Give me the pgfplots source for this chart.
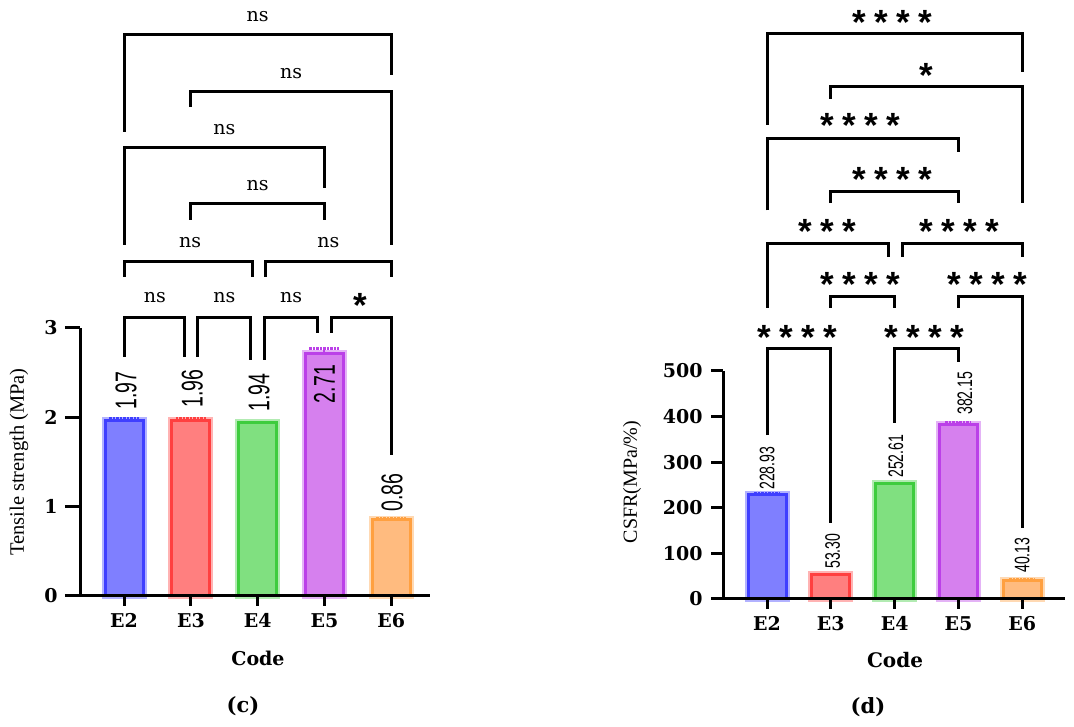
\documentclass[border=0pt]{standalone}
\usepackage{pgfplots}
\pgfplotsset{compat=1.18}
\usepackage{fontspec}
\setmainfont{Liberation Serif}
\newfontfamily\tickfont{DejaVu Serif}
\newfontfamily\valfontL[FakeStretch=0.65]{Liberation Sans}
\newfontfamily\valfontR[FakeStretch=0.67]{Liberation Sans}
\newfontfamily\starfont{Liberation Sans}

\definecolor{fB}{HTML}{7F7FFF}\definecolor{dB}{HTML}{3F3FFF}
\definecolor{fR}{HTML}{FF7F7F}\definecolor{dR}{HTML}{FF4040}
\definecolor{fG}{HTML}{80E080}\definecolor{dG}{HTML}{3ECC3E}
\definecolor{fP}{HTML}{D680EE}\definecolor{dP}{HTML}{BB40E8}
\definecolor{fO}{HTML}{FFBB7F}\definecolor{dO}{HTML}{FFA040}

\newcommand{\sk}{\makebox[22pt]{*}}

\pgfplotsset{
  panel/.style={
    anchor=south west, scale only axis, clip=false,
    axis lines=left,
    every outer x axis line/.append style={-},
    every outer y axis line/.append style={-},
    every inner x axis line/.append style={-},
    every inner y axis line/.append style={-},
    axis line style={line width=3pt, black},
    axis on top,
    tick align=outside,
    tick style={line width=3pt, black},
    xtick={0,1,2,3,4},
    xticklabels={E2,E3,E4,E5,E6},
    xtick style={/pgfplots/major tick length=10pt},
    /pgf/number format/assume math mode=true,
    tick label style={font=\tickfont\bfseries\fontsize{19}{19}\selectfont},
    xticklabel style={inner sep=0pt, yshift=-13pt},
  },
  mybar/.style n args={3}{ybar, bar width=38pt, bar shift=0pt, fill=#1, draw=#2,
    line width=3pt, preaction={draw=#2!40!white, line width=7pt},
    error bars/.cd, y dir=plus, y explicit, error mark=|,
    error bar style={line width=2pt, draw=#2, solid},
    error mark options={mark size=#3, line width=2.5pt, draw=#2, densely dotted}},
}
\tikzset{
  brk/.style={line width=3pt, line join=miter, line cap=butt},
  ns/.style={font=\tickfont\fontsize{19}{19}\selectfont, inner sep=0pt},
  st/.style={font=\starfont\bfseries\fontsize{35}{35}\selectfont, inner sep=0pt, yshift=-19.5pt},
  vL/.style={font=\valfontL\fontsize{30}{30}\selectfont, rotate=90, inner sep=0pt},
  vR/.style={font=\valfontR\fontsize{21}{21}\selectfont, rotate=90, inner sep=0pt},
}

\begin{document}
\begin{tikzpicture}
\path[use as bounding box] (0pt,0pt) rectangle (1074pt,726pt);

% (c) tensile strength
\begin{axis}[panel, at={(80pt,130pt)}, width=350pt, height=268pt,
  xmin=-0.66, xmax=4.58, ymin=0, ymax=3, ytick={0,1,2,3},
  ytick style={/pgfplots/major tick length=15pt},
  yticklabel style={inner sep=0pt, xshift=-18pt}]
\addplot[mybar={fB}{dB}{15pt}] coordinates {(0,1.97) +- (0,0.02)};
\addplot[mybar={fR}{dR}{15pt}] coordinates {(1,1.96) +- (0,0.03)};
\addplot[mybar={fG}{dG}{15pt}] coordinates {(2,1.94) +- (0,0.01)};
\addplot[mybar={fP}{dP}{15pt}] coordinates {(3,2.71) +- (0,0.06)};
\addplot[mybar={fO}{dO}{15pt}] coordinates {(4,0.86) +- (0,0.01)};

\node[vL, anchor=west] at (axis cs:0.03,2.083) {1.97};
\node[vL, anchor=west] at (axis cs:1.02,2.105) {1.96};
\node[vL, anchor=west] at (axis cs:2.02,2.060) {1.94};
\node[vL, anchor=east] at (axis cs:3.00,2.587) {2.71};
\node[vL, anchor=west] at (axis cs:4.01,0.941) {0.86};

% comparison brackets
\draw[brk] (axis cs:0,2.676) |- (axis cs:0.91,3.113) -- (axis cs:0.91,2.676);
\draw[brk] (axis cs:1.1,2.676) |- (axis cs:1.9,3.113) -- (axis cs:1.9,2.643);
\draw[brk] (axis cs:2.1,2.643) |- (axis cs:2.9,3.113) -- (axis cs:2.9,2.945);
\draw[brk] (axis cs:3.1,2.945) |- (axis cs:4,3.113) -- (axis cs:4,1.579);
\node[ns] at (axis cs:0.46,3.337) {ns};
\node[ns] at (axis cs:1.5,3.337) {ns};
\node[ns] at (axis cs:2.5,3.337) {ns};
\node[st] at (axis cs:3.535,3.337) {\smash{*}};

\draw[brk] (axis cs:0,3.572) |- (axis cs:1.92,3.740) -- (axis cs:1.92,3.572);
\draw[brk] (axis cs:2.11,3.572) |- (axis cs:4,3.740) -- (axis cs:4,3.572);
\node[ns] at (axis cs:0.99,3.953) {ns};
\node[ns] at (axis cs:3.06,3.953) {ns};

\draw[brk] (axis cs:1,4.21) |- (axis cs:3,4.390) -- (axis cs:3,4.21);
\node[ns] at (axis cs:2,4.591) {ns};

\draw[brk] (axis cs:0,3.931) |- (axis cs:3,5.017) -- (axis cs:3,4.569);
\node[ns] at (axis cs:1.5,5.218) {ns};

\draw[brk] (axis cs:1,5.476) |- (axis cs:4,5.644) -- (axis cs:4,3.931);
\node[ns] at (axis cs:2.5,5.846) {ns};

\draw[brk] (axis cs:0,5.196) |- (axis cs:4,6.282) -- (axis cs:4,5.834);
\node[ns] at (axis cs:2,6.484) {ns};
\end{axis}

% (d) CSFR
\begin{axis}[panel, at={(723pt,127pt)}, width=342pt, height=228pt,
  xmin=-0.69, xmax=4.67, ymin=0, ymax=500, ytick={0,100,...,500},
  ytick style={/pgfplots/major tick length=12pt},
  yticklabel style={inner sep=0pt, xshift=-16pt}]
\addplot[mybar={fB}{dB}{13pt}] coordinates {(0,228.93) +- (0,2)};
\addplot[mybar={fR}{dR}{13pt}] coordinates {(1,53.30) +- (0,2)};
\addplot[mybar={fG}{dG}{13pt}] coordinates {(2,252.61) +- (0,2)};
\addplot[mybar={fP}{dP}{13pt}] coordinates {(3,382.15) +- (0,6)};
\addplot[mybar={fO}{dO}{13pt}] coordinates {(4,40.13) +- (0,4)};

\node[vR, anchor=west] at (axis cs:0,239) {228.93};
\node[vR, anchor=west] at (axis cs:1.03,65.8) {53.30};
\node[vR, anchor=west] at (axis cs:2.02,265.4) {252.61};
\node[vR, anchor=west] at (axis cs:3.1,403.5) {382.15};
\node[vR, anchor=west] at (axis cs:4,57) {40.13};

\draw[brk] (axis cs:0,359.6) |- (axis cs:1,550.4) -- (axis cs:1,166.7);
\draw[brk] (axis cs:2,386) |- (axis cs:3,550.4) -- (axis cs:3,519.7);
\node[st] at (axis cs:0.47,589.9) {\smash{\sk\sk\sk\sk}};
\node[st] at (axis cs:2.46,589.9) {\smash{\sk\sk\sk\sk}};

\draw[brk] (axis cs:1,638.2) |- (axis cs:2,662.3) -- (axis cs:2,638.2);
\draw[brk] (axis cs:3,638.2) |- (axis cs:4,662.3) -- (axis cs:4,155.7);
\node[st] at (axis cs:1.46,706.1) {\smash{\sk\sk\sk\sk}};
\node[st] at (axis cs:3.46,706.1) {\smash{\sk\sk\sk\sk}};

\draw[brk] (axis cs:0,638.2) |- (axis cs:1.9,780.7) -- (axis cs:1.9,750);
\draw[brk] (axis cs:2.12,750) |- (axis cs:4,780.7) -- (axis cs:4,750);
\node[st] at (axis cs:0.94,822.4) {\smash{\sk\sk\sk}};
\node[st] at (axis cs:3.01,822.4) {\smash{\sk\sk\sk\sk}};

\draw[brk] (axis cs:1,868.4) |- (axis cs:3,894.7) -- (axis cs:3,868.4);
\node[st] at (axis cs:1.97,936.4) {\smash{\sk\sk\sk\sk}};

\draw[brk] (axis cs:0,852.2) |- (axis cs:3,1010.9) -- (axis cs:3,980.3);
\node[st] at (axis cs:1.46,1054.8) {\smash{\sk\sk\sk\sk}};

\draw[brk] (axis cs:1,1096.5) |- (axis cs:4,1125) -- (axis cs:4,868.4);
\node[st] at (axis cs:2.49,1164.5) {\smash{*}};

\draw[brk] (axis cs:0,1039.5) |- (axis cs:4,1241.2) -- (axis cs:4,1155.7);
\node[st] at (axis cs:1.97,1280.7) {\smash{\sk\sk\sk\sk}};
\end{axis}

% axis titles and panel letters
\node[rotate=90, font=\fontsize{20.5}{20.5}\selectfont] at (19pt,264pt) {Tensile strength (MPa)};
\node[rotate=90, font=\fontsize{20}{20}\selectfont] at (632pt,244pt) {CSFR(MPa/\%)};
\node[font=\tickfont\bfseries\fontsize{19}{19}\selectfont] at (258pt,68pt) {Code};
\node[font=\tickfont\bfseries\fontsize{20}{20}\selectfont] at (895pt,66pt) {Code};
\node[font=\tickfont\bfseries\fontsize{21}{21}\selectfont] at (243pt,20pt) {(c)};
\node[font=\tickfont\bfseries\fontsize{21}{21}\selectfont] at (868pt,19pt) {(d)};
\end{tikzpicture}
\end{document}
